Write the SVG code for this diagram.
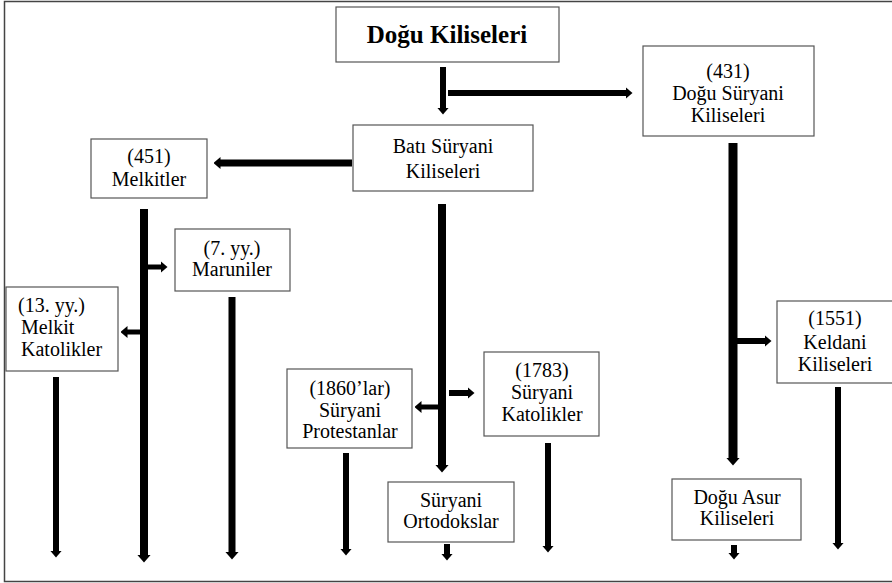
<svg xmlns="http://www.w3.org/2000/svg" width="892" height="583" viewBox="0 0 892 583">
<style>
.box{fill:#fff;stroke:#555;stroke-width:1.2}
.t{font-family:"Liberation Serif","Times New Roman",serif;font-size:20px;fill:#000;text-anchor:middle}
.tl{text-anchor:start}
.b{font-weight:bold;font-size:25px}
.c{stroke:#000;fill:none}
</style>
<defs>
<marker id="ah" viewBox="0 -7 8 14" refX="0.5" refY="0" markerWidth="8" markerHeight="14" markerUnits="userSpaceOnUse" orient="auto"><path d="M0,-7 L8,0 L0,7 z" fill="#000"/></marker>
<marker id="as" viewBox="0 -6 7 12" refX="0.5" refY="0" markerWidth="7" markerHeight="12" markerUnits="userSpaceOnUse" orient="auto"><path d="M0,-6 L7,0 L0,6 z" fill="#000"/></marker>
</defs>
<rect x="0" y="0" width="892" height="583" fill="#fff"/>
<path d="M893,1.5 H4.5 V581.5 H893" fill="none" stroke="#444" stroke-width="1.5"/>
<g id="connectors">
<line class="c" x1="443" y1="67" x2="443" y2="108" stroke-width="6" marker-end="url(#as)"/>
<line class="c" x1="448" y1="93" x2="626" y2="93" stroke-width="6" marker-end="url(#as)"/>
<line class="c" x1="352" y1="163" x2="220" y2="163" stroke-width="7" marker-end="url(#as)"/>
<line class="c" x1="442" y1="204" x2="442" y2="465" stroke-width="8" marker-end="url(#ah)"/>
<line class="c" x1="438" y1="407" x2="421" y2="407" stroke-width="5" marker-end="url(#as)"/>
<line class="c" x1="449" y1="393" x2="468" y2="393" stroke-width="6" marker-end="url(#as)"/>
<line class="c" x1="144" y1="209" x2="144" y2="555" stroke-width="8" marker-end="url(#ah)"/>
<line class="c" x1="146" y1="267" x2="161" y2="267" stroke-width="5" marker-end="url(#as)"/>
<line class="c" x1="142" y1="332" x2="127" y2="332" stroke-width="5" marker-end="url(#as)"/>
<line class="c" x1="56" y1="377" x2="56" y2="551" stroke-width="6" marker-end="url(#as)"/>
<line class="c" x1="232" y1="297" x2="232" y2="552" stroke-width="7" marker-end="url(#ah)"/>
<line class="c" x1="346" y1="453" x2="346" y2="549" stroke-width="6" marker-end="url(#as)"/>
<line class="c" x1="548" y1="443" x2="548" y2="546" stroke-width="6" marker-end="url(#as)"/>
<line class="c" x1="447" y1="544" x2="447" y2="554" stroke-width="6" marker-end="url(#as)"/>
<line class="c" x1="733" y1="143" x2="733" y2="458" stroke-width="9" marker-end="url(#ah)"/>
<line class="c" x1="737" y1="341" x2="765" y2="341" stroke-width="6" marker-end="url(#as)"/>
<line class="c" x1="838" y1="387" x2="838" y2="543" stroke-width="6" marker-end="url(#as)"/>
<line class="c" x1="734" y1="545" x2="734" y2="553" stroke-width="6" marker-end="url(#as)"/>
</g>
<g id="dogu-kiliseleri"><rect class="box" x="336" y="7" width="223" height="55"/><text class="t b" x="447" y="43">Doğu Kiliseleri</text></g>
<g id="bati-suryani"><rect class="box" x="353" y="125" width="180" height="66"/><text class="t" x="443" y="153">Batı Süryani</text><text class="t" x="443" y="178">Kiliseleri</text></g>
<g id="dogu-suryani"><rect class="box" x="643" y="46" width="171" height="90"/><text class="t" x="728" y="78">(431)</text><text class="t" x="728" y="100">Doğu Süryani</text><text class="t" x="728" y="122">Kiliseleri</text></g>
<g id="melkitler"><rect class="box" x="91" y="139" width="116" height="59"/><text class="t" x="149" y="163">(451)</text><text class="t" x="149" y="186">Melkitler</text></g>
<g id="maruniler"><rect class="box" x="175" y="229" width="115" height="62"/><text class="t" x="232" y="255">(7. yy.)</text><text class="t" x="232" y="276">Maruniler</text></g>
<g id="melkit-katolikler"><rect class="box" x="6" y="287" width="112" height="84"/><text class="t tl" x="18" y="312">(13. yy.)</text><text class="t tl" x="21" y="334">Melkit</text><text class="t tl" x="21" y="356">Katolikler</text></g>
<g id="suryani-protestanlar"><rect class="box" x="287" y="369" width="125" height="79"/><text class="t" x="350" y="395">(1860’lar)</text><text class="t" x="350" y="417">Süryani</text><text class="t" x="350" y="438">Protestanlar</text></g>
<g id="suryani-katolikler"><rect class="box" x="484" y="352" width="115" height="84"/><text class="t" x="542" y="377">(1783)</text><text class="t" x="542" y="399">Süryani</text><text class="t" x="542" y="421">Katolikler</text></g>
<g id="suryani-ortodokslar"><rect class="box" x="388" y="482" width="126" height="60"/><text class="t" x="451" y="507">Süryani</text><text class="t" x="451" y="528">Ortodokslar</text></g>
<g id="keldani"><rect class="box" x="777" y="301" width="116" height="82"/><text class="t" x="835" y="325">(1551)</text><text class="t" x="835" y="349">Keldani</text><text class="t" x="835" y="371">Kiliseleri</text></g>
<g id="dogu-asur"><rect class="box" x="672" y="479" width="129" height="61"/><text class="t" x="737" y="504">Doğu Asur</text><text class="t" x="737" y="525">Kiliseleri</text></g>
</svg>
